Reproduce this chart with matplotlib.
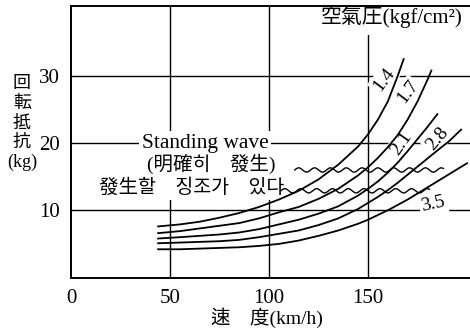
import matplotlib.pyplot as plt
import numpy as np
from matplotlib.patches import Rectangle
from matplotlib.transforms import Bbox

# speed (km/h) vs rolling resistance (kg) for each tyre pressure (kgf/cm2)
pressures = ['1.4', '1.7', '2.1', '2.8', '3.5']
speed_14 = [44, 55, 65, 75, 85, 95, 105, 115, 125, 135, 145, 150, 155, 160, 165, 168]
res_14 = [7.6, 7.9, 8.3, 8.9, 9.6, 10.5, 11.6, 12.9, 14.6, 16.8, 19.5, 21.3, 23.5, 26.2, 30.0, 32.5]
speed_17 = [44, 55, 65, 75, 85, 95, 105, 115, 125, 135, 145, 150, 155, 160, 165, 170, 175, 180, 182]
res_17 = [6.6, 6.9, 7.3, 7.7, 8.1, 8.8, 9.7, 10.5, 11.7, 13.2, 15.2, 16.4, 17.8, 19.4, 21.2, 23.5, 26.2, 29.4, 30.8]
speed_21 = [44, 55, 65, 75, 85, 95, 105, 115, 125, 135, 145, 150, 155, 160, 165, 170, 175, 180, 185]
res_21 = [5.8, 6.0, 6.2, 6.4, 6.7, 7.2, 7.9, 8.6, 9.5, 10.6, 12.2, 13.2, 14.3, 15.6, 17.1, 18.8, 20.6, 22.4, 24.3]
speed_28 = [44, 55, 65, 75, 85, 95, 105, 115, 125, 135, 145, 150, 155, 160, 165, 170, 175, 180, 185, 191, 197]
res_28 = [5.1, 5.2, 5.3, 5.4, 5.6, 6.0, 6.5, 7.0, 7.8, 8.8, 10.2, 11.1, 12.0, 13.0, 14.1, 15.3, 16.5, 17.7, 18.9, 20.3, 22.0]
speed_35 = [44, 55, 65, 75, 85, 95, 105, 115, 125, 135, 145, 150, 155, 160, 165, 170, 175, 180, 185, 190, 195, 200]
res_35 = [4.2, 4.2, 4.3, 4.4, 4.5, 4.7, 5.0, 5.5, 6.2, 7.0, 8.0, 8.6, 9.3, 10.0, 10.8, 11.6, 12.5, 13.4, 14.3, 15.2, 16.1, 17.0]

speeds = [speed_14, speed_17, speed_21, speed_28, speed_35]
resist = [res_14, res_17, res_21, res_28, res_35]

x_ticks = [0, 50, 100, 150]
y_ticks = [10, 20, 30]

# standing wave bands: (start, end, level)
wave_clear = (113, 188, 16.0)
wave_sign = (106, 181, 12.9)

FONT = ['Liberation Serif', 'Noto Sans CJK KR']

fig = plt.figure(figsize=(4.7, 3.35), dpi=100)
ax = fig.add_axes([71 / 470, 1 - 277.5 / 335, (470 - 71) / 470, (277.5 - 6) / 335])
ax.set_xlim(0, 201.5)
ax.set_ylim(0, 40.4)

for s in ['left', 'bottom', 'top']:
    ax.spines[s].set_linewidth(1.4)
ax.spines['right'].set_visible(False)

ax.set_xticks(x_ticks)
ax.set_yticks(y_ticks)
ax.tick_params(length=0, labelsize=15, pad=8)
for lab in ax.get_xticklabels() + ax.get_yticklabels():
    lab.set_family(FONT)

for v in x_ticks[1:]:
    ax.axvline(v, color='black', lw=1.0, zorder=1)
for v in y_ticks:
    ax.axhline(v, color='black', lw=1.0, zorder=1)

for sp, rs in zip(speeds, resist):
    ax.plot(sp, rs, color='black', lw=1.3, zorder=4)

# wavy marks for standing wave region
for x0, x1, lvl in [wave_clear, wave_sign]:
    wx = np.linspace(x0, x1, 300)
    wy = lvl + 0.32 * np.sin((wx - x0) / 8.0 * 2 * np.pi)
    ax.plot(wx, wy, color='black', lw=1.0, zorder=3)

box = dict(facecolor='white', edgecolor='none', pad=1.5)
label_pos = [(158, 29.4, 53), (170, 27.6, 53), (167, 20.0, 55), (185, 20.6, 50), (183, 10.9, 12)]
for name, (lx, ly, rot) in zip(pressures, label_pos):
    ax.text(lx, ly, name, rotation=rot, fontsize=14, family=FONT, ha='center', va='center',
            bbox=box, zorder=2)

ax.text(67.7, 20, 'Standing wave', fontsize=15.5, family=FONT, ha='center', va='center',
        bbox=dict(facecolor='white', edgecolor='none', pad=2), zorder=2.3)
t2 = ax.text(70.7, 16.9, '(明確히　發生)', fontsize=14, family=FONT, ha='center', va='center',
             zorder=2.3)
t3 = ax.text(61.1, 13.3, '發生할　징조가　있다', fontsize=14, family=FONT, ha='center', va='center',
             zorder=2.3)

ax.text(197.5, 38.8, '空氣圧(kgf/cm²)', fontsize=15, family=FONT,
        ha='right', va='center', bbox=dict(facecolor='white', edgecolor='none', pad=5), zorder=2)

# white mask behind the two note lines so the grid does not run through them
fig.canvas.draw()
rend = fig.canvas.get_renderer()
ub = Bbox.union([t2.get_window_extent(rend), t3.get_window_extent(rend)]).padded(3)
ub = ub.transformed(ax.transData.inverted())
ax.add_patch(Rectangle((ub.x0, ub.y0), ub.width, ub.height, facecolor='white',
                       edgecolor='none', zorder=2))

# vertical y label
for i, ch in enumerate(['回', '転', '抵', '抗', '(kg)']):
    fig.text(22 / 470, 1 - (84 + i * 19.5) / 335, ch, fontsize=13, family=FONT,
             ha='center', va='center')

fig.text(267 / 470, 1 - 318 / 335, '速　度(km/h)', fontsize=14, family=FONT,
         ha='center', va='center')

fig.savefig('out.png', dpi=100)
